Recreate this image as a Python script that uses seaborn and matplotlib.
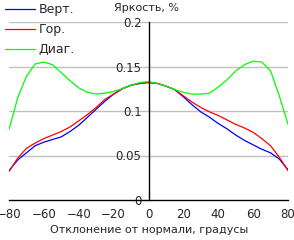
import numpy as np
import pandas as pd
import matplotlib
matplotlib.use("Agg")
import matplotlib.pyplot as plt
import seaborn as sns

ANGLES = [-80, -75, -70, -65, -60, -55, -50, -45, -40, -35, -30, -25, -20, -15, -10, -5,
          0, 5, 10, 15, 20, 25, 30, 35, 40, 45, 50, 55, 60, 65, 70, 75, 80]
VERT = [0.033, 0.045, 0.053, 0.061, 0.065, 0.068, 0.071, 0.077, 0.084, 0.093, 0.102, 0.111,
        0.119, 0.125, 0.129, 0.131, 0.132, 0.131, 0.128, 0.124, 0.116, 0.107, 0.099, 0.093,
        0.086, 0.080, 0.073, 0.067, 0.062, 0.057, 0.053, 0.046, 0.034]
HOR = [0.032, 0.047, 0.058, 0.064, 0.069, 0.073, 0.077, 0.082, 0.089, 0.096, 0.104, 0.113,
       0.119, 0.125, 0.129, 0.131, 0.132, 0.131, 0.128, 0.124, 0.117, 0.110, 0.104, 0.099,
       0.095, 0.090, 0.085, 0.081, 0.076, 0.069, 0.061, 0.048, 0.033]
DIAG = [0.079, 0.115, 0.139, 0.153, 0.155, 0.152, 0.143, 0.134, 0.126, 0.121, 0.119, 0.120,
        0.122, 0.125, 0.129, 0.132, 0.133, 0.131, 0.128, 0.124, 0.121, 0.119, 0.119, 0.120,
        0.127, 0.135, 0.145, 0.152, 0.156, 0.155, 0.145, 0.117, 0.085]
SERIES = ["Верт.", "Гор.", "Диаг."]
COLORS = ["#0000ff", "#ff0000", "#00ff00"]
X_TICKS = [-80, -60, -40, -20, 0, 20, 40, 60, 80]
Y_TICKS = [0, 0.05, 0.1, 0.15, 0.2]
Y_LABELS = ["0", "0.05", "0.1", "0.15", "0.2"]

sns.set_style("white")
plt.rcParams["font.family"] = ["DejaVu Sans"]
plt.rcParams["font.size"] = 8

df = pd.concat([
    pd.DataFrame({"angle": ANGLES, "value": vals, "series": name})
    for name, vals in zip(SERIES, [VERT, HOR, DIAG])
])

fig = plt.figure(figsize=(2.94, 2.4), dpi=100)
ax = fig.add_axes([9 / 294, 40 / 240, 279 / 294, 178 / 240])

for y in Y_TICKS[1:]:
    ax.axhline(y, color="#c0c0c0", lw=1, zorder=0)

sns.lineplot(data=df, x="angle", y="value", hue="series", palette=COLORS,
             hue_order=SERIES, lw=0.9, ax=ax, legend=True)

ax.set_xlim(-80, 80)
ax.set_ylim(0, 0.2)
ax.spines["left"].set_position(("data", 0))
ax.spines["bottom"].set_position(("data", 0))
ax.spines["top"].set_visible(False)
ax.spines["right"].set_visible(False)
for s in ["left", "bottom"]:
    ax.spines[s].set_color("black")
    ax.spines[s].set_linewidth(1)

ax.set_xticks(X_TICKS)
ax.set_yticks(Y_TICKS)
ax.set_yticklabels(Y_LABELS)
ax.tick_params(axis="x", direction="out", length=4, width=1, color="black", pad=2, labelsize=8.5)
ax.tick_params(axis="y", direction="out", length=4, width=1, color="black", pad=1, labelsize=8.5)
ax.set_xlabel("")
ax.set_ylabel("")
ax.patch.set_alpha(0)

fig.text(147 / 294, 1 - 8 / 240, "Яркость, %", ha="center", va="center", fontsize=8)
fig.text(149 / 294, 1 - 230 / 240, "Отклонение от нормали, градусы", ha="center", va="center", fontsize=8)

ax.legend(loc="upper left", bbox_to_anchor=(0.005, 1.0), bbox_transform=fig.transFigure,
          frameon=False, handlelength=2.4, handletextpad=0.3, labelspacing=0.55,
          borderaxespad=0.1, borderpad=0.15, fontsize=9)

fig.savefig("out.png", dpi=100)
